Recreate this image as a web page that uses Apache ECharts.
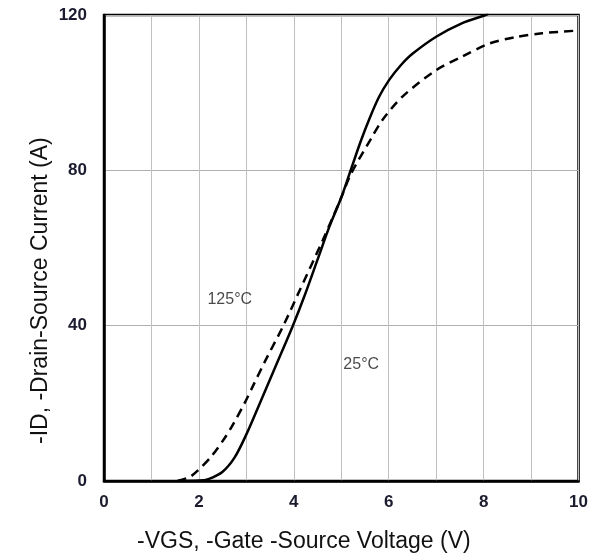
<!DOCTYPE html>
<html>
<head>
<meta charset="utf-8">
<script src="https://cdn.jsdelivr.net/npm/echarts@6/dist/echarts.min.js"></script>
<style>html,body{margin:0;padding:0;background:#fff}#c{width:591px;height:559px}</style>
</head>
<body>
<div id="c"></div>
<script>
// -VGS (V), -ID (A)
const vgs25 = [1.55, 2.0, 2.2, 2.5, 2.75, 3.0, 3.3, 3.65, 3.98, 4.22, 4.5, 4.75, 5.0, 5.17, 5.41, 5.6, 5.8, 6.01, 6.25, 6.5, 7.0, 7.55, 8.0, 8.1];
const id25  = [0, 0.1, 0.5, 2.4, 6, 12, 20.5, 30.5, 40, 47.5, 57, 65.5, 73, 79, 87.5, 93.5, 99, 103.3, 107, 110, 114.4, 117.9, 119.8, 120.3];
const vgs125 = [1.55, 1.8, 1.95, 2.26, 2.54, 2.72, 2.96, 3.14, 3.4, 3.78, 4.12, 4.61, 5.0, 5.2, 5.62, 5.87, 6.29, 7.0, 7.55, 8.11, 8.67, 9.23, 10];
const id125  = [0, 1, 2.4, 6.3, 11, 14.6, 20, 24.5, 31, 40, 49, 62, 73, 79, 88, 93, 99, 105.8, 109.3, 112.6, 114.3, 115.3, 116];
const xTicks = [0, 2, 4, 6, 8, 10];
const yTicks = [0, 40, 80, 120];
const labels = [{text: '125°C', x: 2.65, y: 46.6}, {text: '25°C', x: 5.42, y: 30}];
const xTitle = '-VGS, -Gate -Source Voltage (V)';
const yTitle = '-ID, -Drain-Source Current (A)';

const pairs = (xs, ys) => xs.map((x, i) => [x, ys[i]]);
const tickFont = {fontFamily: '"Liberation Sans", Arial, sans-serif', fontWeight: 'bold', fontSize: 17, color: '#1c1c30'};

const chart = echarts.init(document.getElementById('c'));
chart.setOption({
  animation: false,
  grid: {left: 104, right: 11, top: 15, bottom: 78, show: true, borderColor: '#000', borderWidth: 2.5, backgroundColor: 'transparent'},
  xAxis: {
    type: 'value', min: 0, max: 10, interval: 1,
    axisLine: {show: true, onZero: false, lineStyle: {color: '#000', width: 2.5}},
    axisTick: {show: false},
    splitLine: {show: true, lineStyle: {color: '#c0c0c0', width: 1}},
    axisLabel: Object.assign({margin: 13, formatter: v => xTicks.includes(v) ? String(v) : ''}, tickFont)
  },
  yAxis: {
    type: 'value', min: 0, max: 120, interval: 40,
    axisLine: {show: true, onZero: false, lineStyle: {color: '#000', width: 2.5}},
    axisTick: {show: false},
    splitLine: {show: true, lineStyle: {color: '#b0b0b0', width: 1}},
    axisLabel: Object.assign({margin: 17, formatter: v => yTicks.includes(v) ? String(v) : ''}, tickFont)
  },
  graphic: [
    {type: 'text', left: 137, top: 530, style: {text: xTitle, font: '23px "Liberation Sans", Arial, sans-serif', fill: '#111'}},
    {type: 'text', x: 29, y: 444, rotation: Math.PI / 2, style: {text: yTitle, font: '23px "Liberation Sans", Arial, sans-serif', fill: '#111', textAlign: 'left', textVerticalAlign: 'top'}}
  ],
  series: [
    {
      name: '25°C', type: 'line', data: pairs(vgs25, id25), smooth: 0.3, showSymbol: false, clip: true,
      lineStyle: {color: '#000', width: 2.5}
    },
    {
      name: '125°C', type: 'line', data: pairs(vgs125, id125), smooth: 0.3, showSymbol: false, clip: true,
      lineStyle: {color: '#000', width: 2.5, type: [9, 6]}
    },
    {
      type: 'scatter', symbolSize: 0, silent: true,
      data: labels.map(l => ({value: [l.x, l.y], name: l.text})),
      label: {show: true, position: 'inside', formatter: p => p.name, fontFamily: '"Liberation Sans", Arial, sans-serif', fontSize: 16, color: '#1a1a1a'}
    }
  ]
});
</script>
</body>
</html>
